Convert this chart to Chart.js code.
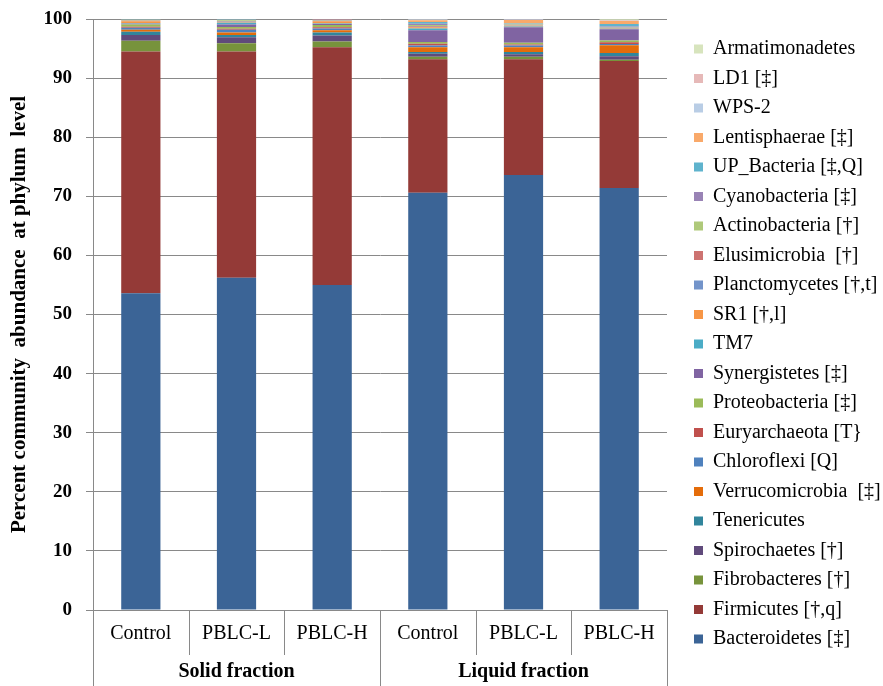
<!DOCTYPE html>
<html>
<head>
<meta charset="utf-8">
<script src="https://cdn.jsdelivr.net/npm/chart.js@4.4.1/dist/chart.umd.min.js"></script>
<style>
  html, body { margin: 0; padding: 0; background: #fff; }
  #wrap { width: 883px; height: 686px; }
</style>
</head>
<body>
<div id="wrap"><canvas id="chart" width="883" height="686"></canvas></div>
<script>
// Phylum-level community abundance, solid vs liquid fraction

const categories = ['Control', 'PBLC-L', 'PBLC-H', 'Control', 'PBLC-L', 'PBLC-H'];
const groupLabels = ['Solid fraction', 'Liquid fraction'];
const groupSize = 3;

const yTicks = [0, 10, 20, 30, 40, 50, 60, 70, 80, 90, 100];

// stacked bottom -> top
const phyla = [
  'Bacteroidetes [‡]', 'Firmicutes [†,q]', 'Fibrobacteres [†]', 'Spirochaetes [†]',
  'Tenericutes', 'Verrucomicrobia  [‡]', 'Chloroflexi [Q]', 'Euryarchaeota [T}',
  'Proteobacteria [‡]', 'Synergistetes [‡]', 'TM7', 'SR1 [†,l]',
  'Planctomycetes [†,t]', 'Elusimicrobia  [†]', 'Actinobacteria [†]', 'Cyanobacteria [‡]',
  'UP_Bacteria [‡,Q]', 'Lentisphaerae [‡]', 'WPS-2', 'LD1 [‡]', 'Armatimonadetes'
];

const bacteroidetes   = [53.6, 56.2, 55.0, 70.6, 73.6, 71.4];
const firmicutes      = [40.9, 38.3, 40.2, 22.6, 19.6, 21.5];
const fibrobacteres   = [1.8, 1.4, 1.0, 0.4, 0.4, 0.2];
const spirochaetes    = [1.0, 1.0, 1.0, 0.5, 0.45, 0.6];
const tenericutes     = [0.55, 0.4, 0.5, 0.3, 0.35, 0.55];
const verrucomicrobia = [0.35, 0.4, 0.4, 0.8, 0.8, 1.3];
const chloroflexi     = [0.3, 0.5, 0.3, 0.3, 0.3, 0.2];
const euryarchaeota   = [0.2, 0.15, 0.2, 0.3, 0.2, 0.3];
const proteobacteria  = [0.35, 0.3, 0.4, 0.3, 0.3, 0.3];
const synergistetes   = [0.15, 0.4, 0.15, 2.0, 2.6, 1.9];
const tm7             = [0.1, 0.3, 0.1, 0.3, 0.15, 0.1];
const sr1             = [0.3, 0.1, 0.35, 0.2, 0.1, 0.1];
const planctomycetes  = [0.05, 0.1, 0.1, 0.1, 0.05, 0.05];
const elusimicrobia   = [0.05, 0.05, 0.05, 0.1, 0.05, 0.05];
const actinobacteria  = [0.1, 0.2, 0.1, 0.2, 0.1, 0.1];
const cyanobacteria   = [0.05, 0.05, 0.05, 0.2, 0.1, 0.1];
const upBacteria      = [0.05, 0.05, 0.03, 0.3, 0.1, 0.4];
const lentisphaerae   = [0.1, 0.05, 0.05, 0.3, 0.6, 0.55];
const wps2            = [0.02, 0.02, 0.01, 0.1, 0.05, 0.1];
const ld1             = [0.03, 0.03, 0.01, 0.05, 0.1, 0.05];
const armatimonadetes = [0.0, 0.0, 0.0, 0.05, 0.0, 0.1];

const seriesValues = [
  bacteroidetes, firmicutes, fibrobacteres, spirochaetes, tenericutes, verrucomicrobia,
  chloroflexi, euryarchaeota, proteobacteria, synergistetes, tm7, sr1,
  planctomycetes, elusimicrobia, actinobacteria, cyanobacteria, upBacteria, lentisphaerae,
  wps2, ld1, armatimonadetes
];

const colors = [
  '#3B6496', '#943A37', '#77933C', '#604A7B', '#31859C', '#E46C0A',
  '#4F81BD', '#C0504D', '#9BBB59', '#8064A2', '#4BACC6', '#F79646',
  '#7394CA', '#CD7371', '#AFC97A', '#9983B5', '#5FB3CD', '#F9A96A',
  '#B9CDE5', '#E6B9B8', '#D7E4BD'
];

const SERIF = '"Liberation Serif", "Times New Roman", serif';
const AXIS_GREY = '#898989';

// dividers under the category axis plus the group row
const axisDecor = {
  id: 'axisDecor',
  afterDraw(chart) {
    const { ctx, chartArea } = chart;
    const x = chart.scales.x;
    const n = categories.length;
    const edge = i => {
      if (i === 0) return x.left;
      if (i === n) return x.right;
      return (x.getPixelForValue(i - 1) + x.getPixelForValue(i)) / 2;
    };
    ctx.save();
    ctx.strokeStyle = AXIS_GREY;
    ctx.lineWidth = 1;
    for (let i = 0; i <= n; i++) {
      const px = Math.round(edge(i)) + 0.5;
      const full = i % groupSize === 0;
      ctx.beginPath();
      ctx.moveTo(px, chartArea.bottom);
      ctx.lineTo(px, full ? chart.height : chartArea.bottom + 45);
      ctx.stroke();
    }
    ctx.font = 'bold 20px ' + SERIF;
    ctx.fillStyle = '#000';
    ctx.textAlign = 'center';
    ctx.textBaseline = 'middle';
    groupLabels.forEach((g, gi) => {
      const cx = (edge(gi * groupSize) + edge((gi + 1) * groupSize)) / 2;
      ctx.fillText(g, cx, chartArea.bottom + 62);
    });
    ctx.restore();
  }
};

new Chart(document.getElementById('chart').getContext('2d'), {
  type: 'bar',
  data: {
    labels: categories,
    datasets: phyla.map((name, i) => ({
      label: name,
      data: seriesValues[i],
      backgroundColor: colors[i],
      borderWidth: 0,
      categoryPercentage: 1,
      barPercentage: 0.41
    }))
  },
  options: {
    responsive: false,
    animation: false,
    layout: { padding: { top: 19, bottom: 0, left: 0, right: 0 } },
    scales: {
      x: {
        stacked: true,
        grid: { display: false, drawTicks: false },
        border: { display: true, color: AXIS_GREY },
        ticks: {
          color: '#000',
          font: { family: SERIF, size: 20 },
          padding: 12,
          maxRotation: 0,
          autoSkip: false
        },
        afterFit(scale) {
          scale.height = 76;
          scale.paddingLeft = 0;
          scale.paddingRight = 0;
        }
      },
      y: {
        stacked: true,
        min: 0,
        max: 100,
        afterBuildTicks(scale) { scale.ticks = yTicks.map(v => ({ value: v })); },
        grid: { color: AXIS_GREY, tickLength: 7 },
        border: { display: true, color: AXIS_GREY },
        ticks: {
          color: '#000',
          font: { family: SERIF, size: 19, weight: 'bold' },
          padding: 14
        },
        title: {
          display: true,
          text: 'Percent community  abundance  at phylum  level',
          color: '#000',
          font: { family: SERIF, size: 21, weight: 'bold' },
          padding: { top: 7, bottom: 0 }
        },
        afterFit(scale) {
          scale.width = 93;
          scale.paddingTop = 0;
          scale.paddingBottom = 0;
        }
      },
      // empty spacer between plot and legend
      gap: {
        type: 'linear',
        position: 'right',
        display: true,
        grid: { display: false },
        border: { display: false },
        ticks: { display: false },
        afterFit(scale) { scale.width = 17.5; }
      }
    },
    plugins: {
      legend: {
        position: 'right',
        align: 'start',
        reverse: true,
        maxWidth: 198.5,
        title: { display: true, text: ' ', font: { size: 5 }, padding: 2.25 },
        labels: {
          color: '#000',
          font: { family: SERIF, size: 20 },
          boxWidth: 9,
          boxHeight: 9,
          padding: 9.5
        }
      },
      tooltip: { enabled: false }
    }
  },
  plugins: [axisDecor]
});
</script>
</body>
</html>
